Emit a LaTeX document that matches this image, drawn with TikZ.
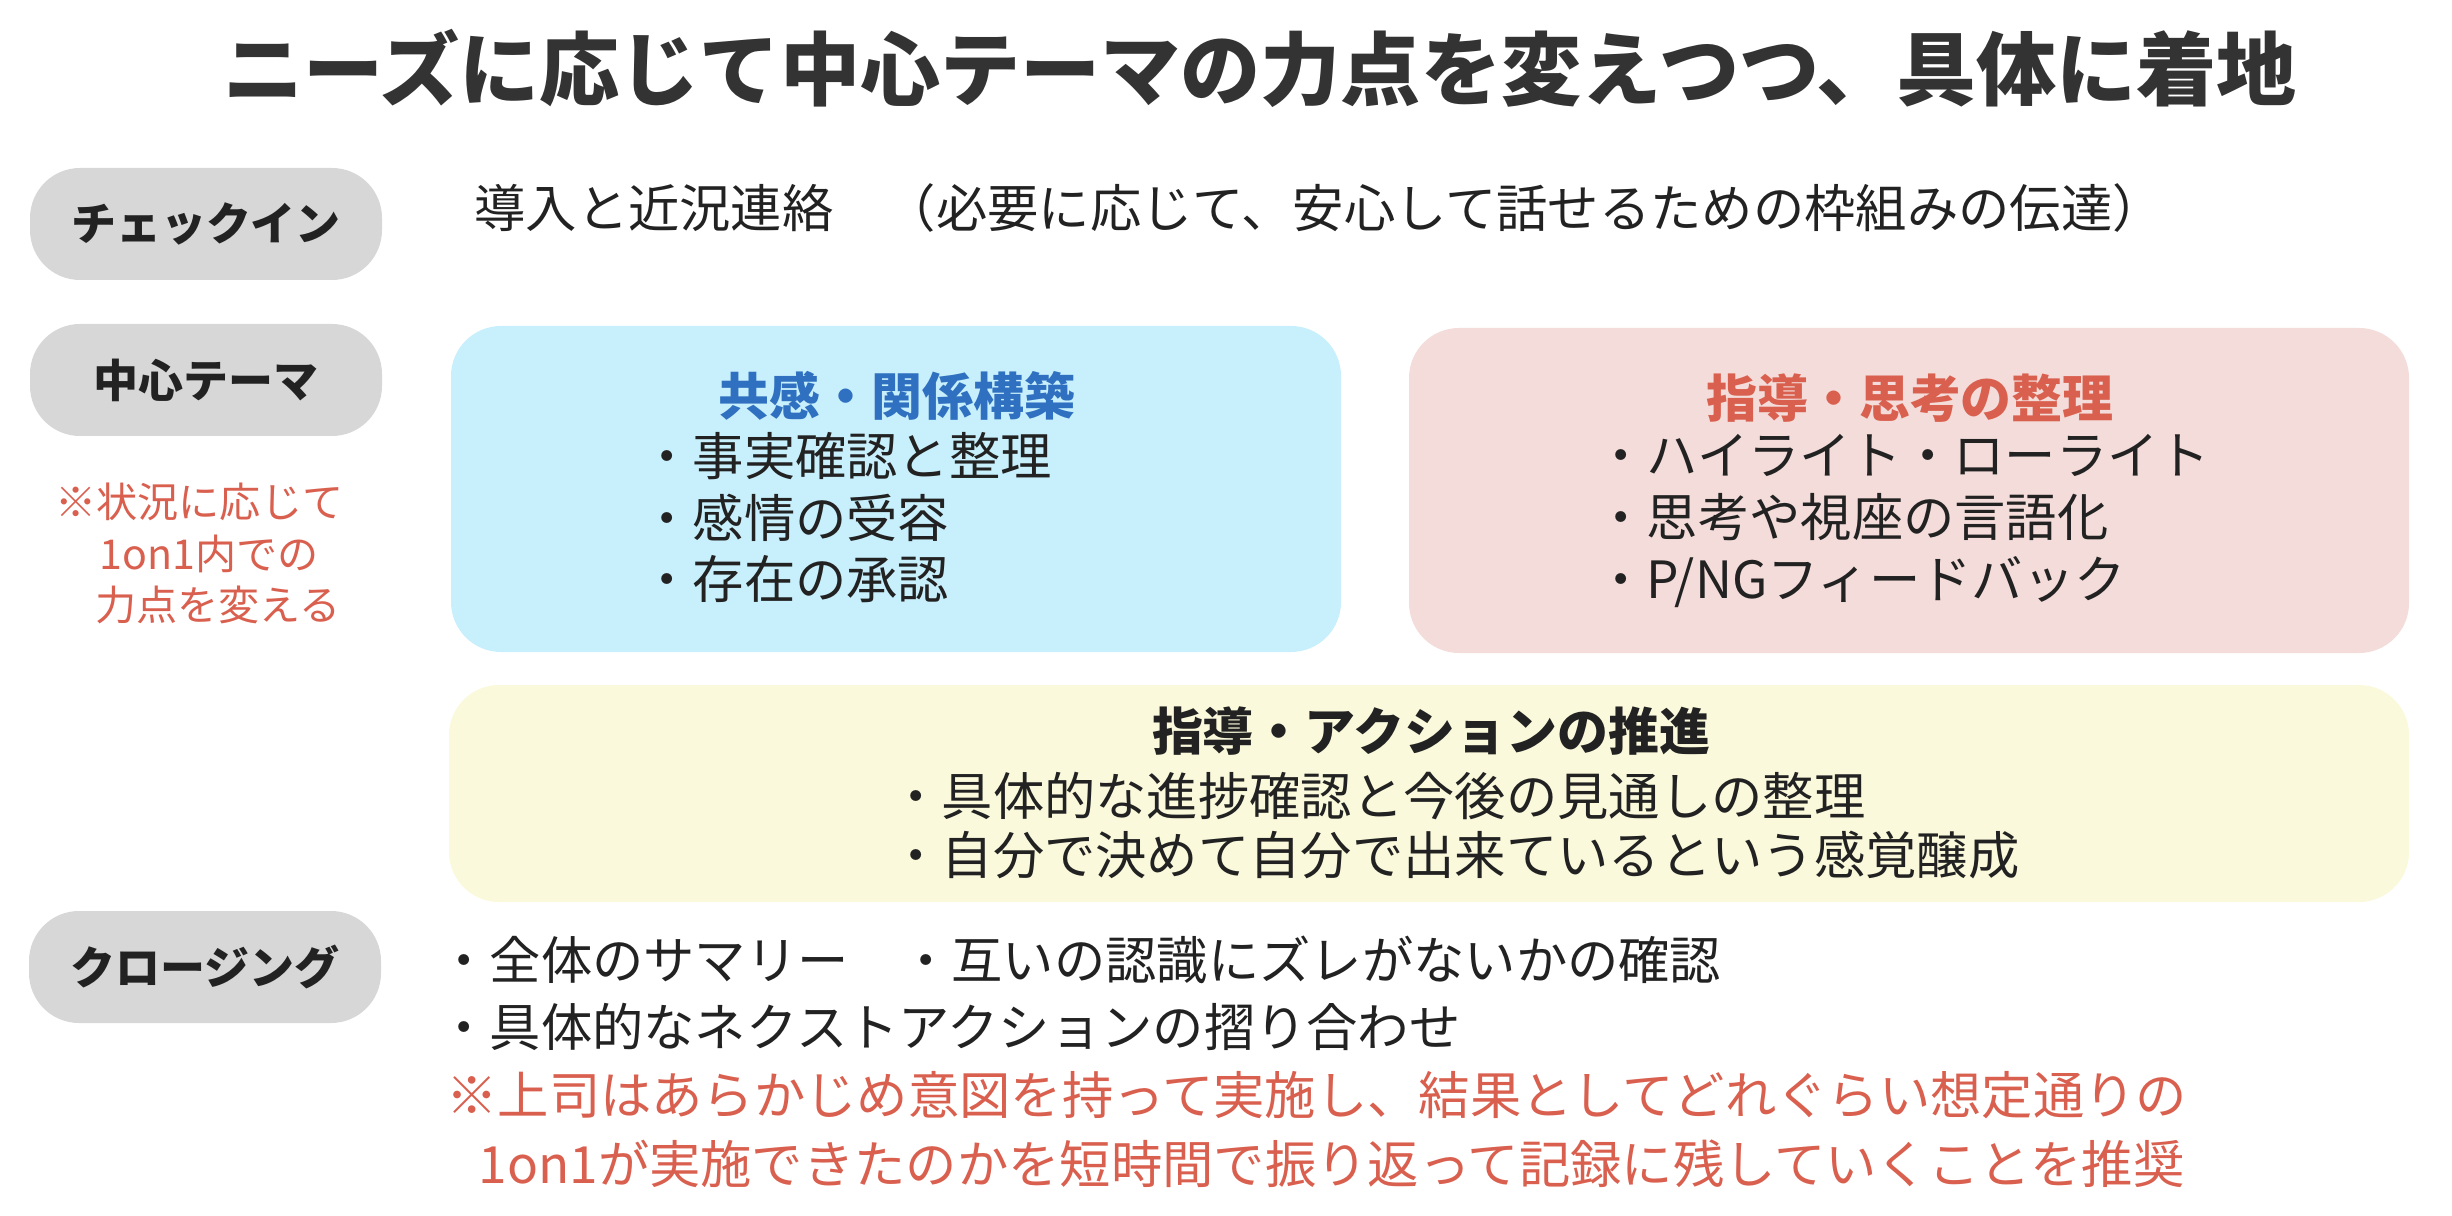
\documentclass[tikz,border=0pt]{standalone}
\usepackage{fontspec}
\setmainfont{Noto Sans CJK JP}
\usepackage{tikz}
\usetikzlibrary{calc}
\definecolor{pillgray}{HTML}{D7D7D7}
\definecolor{empblue}{HTML}{C8F0FC}
\definecolor{empred}{HTML}{F3DCD9}
\definecolor{empyellow}{HTML}{FAF9DC}
\definecolor{headblue}{HTML}{2F70C0}
\definecolor{notered}{HTML}{D9604F}
\definecolor{ink}{HTML}{222222}
\definecolor{headink}{HTML}{333333}

\begin{document}
\begin{tikzpicture}[thick, scale=1,
  pill/.style={fill=pillgray, rounded corners=0.5cm, minimum width=3.52cm, minimum height=1.12cm, inner sep=0, text=ink, font=\fontsize{12.8}{15}\selectfont\bfseries},
  themebox/.style={rounded corners=0.5cm, inner sep=0},
  head/.style={inner sep=0, font=\fontsize{14.5}{17}\selectfont\bfseries},
  body/.style={inner sep=0, anchor=west, align=left, text=ink, font=\fontsize{14.6}{17.5}\selectfont},
  note/.style={inner sep=0, anchor=west, text=notered, font=\fontsize{11.7}{14}\selectfont}]
\newcommand{\bul}{・}
\useasboundingbox (0,0) rectangle (24.52,-12.16);
\node (title) [inner sep=0, text=headink, font=\fontsize{22.8}{26}\selectfont\bfseries] at (12.60,-0.68) {ニーズに応じて中心テーマの力点を変えつつ、具体に着地};
\node (checkin) [pill] at (2.06,-2.24) {チェックイン};
\node (theme) [pill] at (2.06,-3.80) {中心テーマ};
\node (closing) [pill] at (2.05,-9.67) {クロージング};
\node (intro) [body] at (4.73,-2.08) {導入と近況連絡　（必要に応じて、安心して話せるための枠組みの伝達）};
\node (note1) [note] at (0.54,-5.02) {※状況に応じて};
\node (note2) [note] at (0.98,-5.54) {1on1内での};
\node (note3) [note] at (0.94,-6.05) {力点を変える};
\node (empathy) [themebox, fill=empblue, minimum width=8.90cm, minimum height=3.26cm] at (8.96,-4.89) {};
\node (empathyhead) [head, text=headblue] at (8.97,-3.96) {共感・関係構築};
\node (empathylist) [body] at (6.40,-5.18) {\bul 事実確認と整理\\\bul 感情の受容\\\bul 存在の承認};
\node (coach) [themebox, fill=empred, minimum width=10.00cm, minimum height=3.25cm] at (19.09,-4.905) {};
\node (coachhead) [head, text=notered] at (19.10,-3.98) {指導・思考の整理};
\node (coachlist) [body] at (15.94,-5.21) {\bul ハイライト・ローライト\\\bul 思考や視座の言語化\\\bul P/NGフィードバック};
\node (action) [themebox, fill=empyellow, minimum width=19.60cm, minimum height=2.17cm] at (14.29,-7.935) {};
\node (actionhead) [head, text=ink] at (14.31,-7.31) {指導・アクションの推進};
\node (actionlist) [body, font=\fontsize{14.6}{16.8}\selectfont] at (8.89,-8.255) {\bul 具体的な進捗確認と今後の見通しの整理\\\bul 自分で決めて自分で出来ているという感覚醸成};
\node (closinglist) [body, font=\fontsize{14.6}{19}\selectfont] at (4.37,-9.935) {\bul 全体のサマリー　\bul 互いの認識にズレがないかの確認\\\bul 具体的なネクストアクションの摺り合わせ};
\node (advice1) [body, text=notered] at (4.45,-10.95) {※上司はあらかじめ意図を持って実施し、結果としてどれぐらい想定通りの};
\node (advice2) [body, anchor=east, text=notered] at (21.86,-11.64) {1on1が実施できたのかを短時間で振り返って記録に残していくことを推奨};
\end{tikzpicture}
\end{document}
